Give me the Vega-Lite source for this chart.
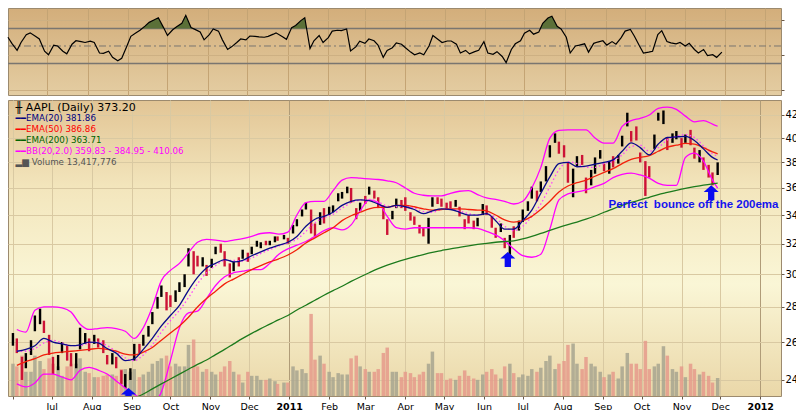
{
"$schema": "https://vega.github.io/schema/vega-lite/v6.json",
"padding": {"left": 5, "top": 7, "right": 0, "bottom": 0},
"background": "white",
"spacing": 3,
"config": {"font": "DejaVu Sans", "axis": {"domain": false, "labelFont": "DejaVu Sans", "labelColor": "#000", "tickColor": "#6a5a4a"}},
"datasets": {
"px": [
{"d":"2010-06-01","h":265,"l":258,"u":1,"v":24,"r":60},
{"d":"2010-06-04","h":262,"l":254,"u":0,"v":22,"r":53},
{"d":"2010-06-08","h":252,"l":240,"u":0,"v":30,"r":45},
{"d":"2010-06-11","h":254,"l":246,"u":1,"v":18,"r":54},
{"d":"2010-06-15","h":261,"l":253,"u":1,"v":18,"r":63},
{"d":"2010-06-18","h":275,"l":266,"u":1,"v":30,"r":65},
{"d":"2010-06-22","h":279,"l":270,"u":1,"v":26,"r":61},
{"d":"2010-06-25","h":272,"l":265,"u":0,"v":20,"r":58},
{"d":"2010-06-29","h":264,"l":253,"u":0,"v":28,"r":44},
{"d":"2010-07-02","h":252,"l":243,"u":0,"v":24,"r":40},
{"d":"2010-07-06","h":253,"l":245,"u":1,"v":22,"r":51},
{"d":"2010-07-09","h":260,"l":254,"u":1,"v":15,"r":50},
{"d":"2010-07-13","h":258,"l":250,"u":0,"v":22,"r":44},
{"d":"2010-07-16","h":254,"l":247,"u":0,"v":24,"r":41},
{"d":"2010-07-20","h":254,"l":246,"u":1,"v":24,"r":52},
{"d":"2010-07-23","h":268,"l":256,"u":1,"v":28,"r":56},
{"d":"2010-07-27","h":265,"l":259,"u":1,"v":18,"r":55},
{"d":"2010-07-30","h":262,"l":255,"u":0,"v":17,"r":54},
{"d":"2010-08-03","h":264,"l":259,"u":1,"v":14,"r":55.5},
{"d":"2010-08-06","h":262,"l":257,"u":0,"v":14,"r":54},
{"d":"2010-08-10","h":261,"l":254,"u":0,"v":15,"r":42},
{"d":"2010-08-13","h":253,"l":248,"u":0,"v":16,"r":41.5},
{"d":"2010-08-17","h":254,"l":248,"u":1,"v":16,"r":44},
{"d":"2010-08-20","h":252,"l":246,"u":0,"v":15,"r":37},
{"d":"2010-08-24","h":245,"l":238,"u":0,"v":20,"r":33},
{"d":"2010-08-27","h":243,"l":236,"u":1,"v":20,"r":36},
{"d":"2010-08-31","h":246,"l":240,"u":1,"v":18,"r":50},
{"d":"2010-09-03","h":259,"l":250,"u":1,"v":20,"r":61},
{"d":"2010-09-07","h":259,"l":254,"u":0,"v":14,"r":65},
{"d":"2010-09-10","h":264,"l":258,"u":1,"v":16,"r":68},
{"d":"2010-09-14","h":269,"l":263,"u":1,"v":18,"r":73},
{"d":"2010-09-17","h":277,"l":270,"u":1,"v":24,"r":77},
{"d":"2010-09-21","h":286,"l":279,"u":1,"v":26,"r":80},
{"d":"2010-09-24","h":293,"l":286,"u":1,"v":28,"r":82.3},
{"d":"2010-09-28","h":289,"l":278,"u":0,"v":30,"r":71},
{"d":"2010-10-01","h":287,"l":280,"u":0,"v":22,"r":62},
{"d":"2010-10-05","h":290,"l":283,"u":1,"v":24,"r":68.5},
{"d":"2010-10-08","h":295,"l":289,"u":1,"v":22,"r":72},
{"d":"2010-10-12","h":300,"l":292,"u":1,"v":22,"r":76},
{"d":"2010-10-15","h":317,"l":305,"u":1,"v":38,"r":85},
{"d":"2010-10-19","h":315,"l":300,"u":0,"v":42,"r":71},
{"d":"2010-10-22","h":312,"l":305,"u":0,"v":22,"r":69},
{"d":"2010-10-26","h":311,"l":305,"u":1,"v":18,"r":66},
{"d":"2010-10-29","h":306,"l":299,"u":0,"v":20,"r":57},
{"d":"2010-11-02","h":310,"l":304,"u":1,"v":18,"r":63},
{"d":"2010-11-05","h":318,"l":313,"u":1,"v":16,"r":69.5},
{"d":"2010-11-09","h":320,"l":314,"u":0,"v":18,"r":67},
{"d":"2010-11-12","h":315,"l":305,"u":0,"v":22,"r":57},
{"d":"2010-11-16","h":307,"l":298,"u":0,"v":26,"r":46},
{"d":"2010-11-19","h":308,"l":302,"u":1,"v":18,"r":49},
{"d":"2010-11-23","h":311,"l":305,"u":0,"v":16,"r":54},
{"d":"2010-11-26","h":316,"l":310,"u":1,"v":10,"r":58},
{"d":"2010-11-30","h":314,"l":308,"u":0,"v":18,"r":57},
{"d":"2010-12-03","h":318,"l":313,"u":1,"v":15,"r":61.4},
{"d":"2010-12-07","h":322,"l":318,"u":1,"v":15,"r":61},
{"d":"2010-12-10","h":321,"l":317,"u":1,"v":12,"r":60.5},
{"d":"2010-12-14","h":322,"l":319,"u":0,"v":12,"r":60},
{"d":"2010-12-17","h":322,"l":319,"u":1,"v":13,"r":61},
{"d":"2010-12-21","h":325,"l":321,"u":1,"v":11,"r":63.5},
{"d":"2010-12-23","h":325,"l":322,"u":0,"v":9,"r":65},
{"d":"2010-12-28","h":326,"l":323,"u":1,"v":10,"r":60.5},
{"d":"2010-12-31","h":324,"l":320,"u":0,"v":10,"r":57.6},
{"d":"2011-01-04","h":333,"l":327,"u":1,"v":22,"r":71},
{"d":"2011-01-07","h":337,"l":332,"u":1,"v":19,"r":73.5},
{"d":"2011-01-11","h":344,"l":339,"u":1,"v":20,"r":79},
{"d":"2011-01-14","h":349,"l":344,"u":1,"v":17,"r":82.3},
{"d":"2011-01-18","h":344,"l":327,"u":0,"v":61,"r":47},
{"d":"2011-01-21","h":334,"l":325,"u":0,"v":27,"r":56},
{"d":"2011-01-25","h":342,"l":333,"u":1,"v":30,"r":62},
{"d":"2011-01-28","h":345,"l":334,"u":0,"v":24,"r":54},
{"d":"2011-02-01","h":346,"l":340,"u":1,"v":18,"r":59.5},
{"d":"2011-02-04","h":347,"l":342,"u":1,"v":14,"r":67},
{"d":"2011-02-08","h":356,"l":350,"u":1,"v":17,"r":68},
{"d":"2011-02-11","h":357,"l":352,"u":1,"v":16,"r":67.5},
{"d":"2011-02-15","h":361,"l":356,"u":1,"v":16,"r":69.5},
{"d":"2011-02-18","h":360,"l":349,"u":0,"v":28,"r":44.3},
{"d":"2011-02-22","h":345,"l":337,"u":0,"v":30,"r":49},
{"d":"2011-02-25","h":349,"l":343,"u":1,"v":22,"r":55.5},
{"d":"2011-03-01","h":354,"l":348,"u":0,"v":20,"r":53},
{"d":"2011-03-04","h":361,"l":355,"u":1,"v":18,"r":58},
{"d":"2011-03-08","h":358,"l":352,"u":0,"v":18,"r":56},
{"d":"2011-03-11","h":353,"l":345,"u":0,"v":20,"r":51},
{"d":"2011-03-15","h":347,"l":337,"u":0,"v":32,"r":37},
{"d":"2011-03-18","h":337,"l":326,"u":0,"v":36,"r":45},
{"d":"2011-03-22","h":343,"l":337,"u":1,"v":18,"r":48},
{"d":"2011-03-25","h":352,"l":345,"u":1,"v":18,"r":53.5},
{"d":"2011-03-29","h":351,"l":345,"u":0,"v":14,"r":52},
{"d":"2011-04-01","h":353,"l":343,"u":0,"v":18,"r":48},
{"d":"2011-04-05","h":342,"l":336,"u":0,"v":17,"r":43},
{"d":"2011-04-08","h":339,"l":333,"u":0,"v":14,"r":40},
{"d":"2011-04-12","h":333,"l":327,"u":0,"v":16,"r":42},
{"d":"2011-04-15","h":331,"l":325,"u":0,"v":18,"r":40},
{"d":"2011-04-19","h":338,"l":320,"u":1,"v":24,"r":50},
{"d":"2011-04-22","h":353,"l":346,"u":1,"v":33,"r":62},
{"d":"2011-04-26","h":353,"l":348,"u":0,"v":17,"r":57.5},
{"d":"2011-04-29","h":352,"l":346,"u":0,"v":17,"r":54},
{"d":"2011-05-03","h":349,"l":344,"u":0,"v":12,"r":55.7},
{"d":"2011-05-06","h":350,"l":345,"u":0,"v":13,"r":55.7},
{"d":"2011-05-10","h":351,"l":346,"u":1,"v":12,"r":52},
{"d":"2011-05-13","h":346,"l":339,"u":0,"v":15,"r":42},
{"d":"2011-05-17","h":337,"l":330,"u":0,"v":19,"r":45},
{"d":"2011-05-20","h":340,"l":334,"u":0,"v":15,"r":41},
{"d":"2011-05-24","h":336,"l":330,"u":0,"v":13,"r":43.5},
{"d":"2011-05-27","h":338,"l":332,"u":1,"v":12,"r":45},
{"d":"2011-05-31","h":348,"l":340,"u":1,"v":16,"r":55},
{"d":"2011-06-03","h":347,"l":340,"u":0,"v":18,"r":42},
{"d":"2011-06-07","h":339,"l":331,"u":0,"v":20,"r":40.5},
{"d":"2011-06-10","h":331,"l":324,"u":0,"v":16,"r":43.5},
{"d":"2011-06-14","h":334,"l":328,"u":1,"v":13,"r":38},
{"d":"2011-06-17","h":324,"l":317,"u":0,"v":22,"r":31},
{"d":"2011-06-21","h":326,"l":311,"u":1,"v":24,"r":46},
{"d":"2011-06-24","h":332,"l":324,"u":0,"v":17,"r":52.5},
{"d":"2011-06-28","h":336,"l":329,"u":1,"v":14,"r":56},
{"d":"2011-07-01","h":344,"l":335,"u":1,"v":16,"r":64.5},
{"d":"2011-07-05","h":350,"l":343,"u":1,"v":15,"r":68},
{"d":"2011-07-08","h":361,"l":352,"u":1,"v":20,"r":63.5},
{"d":"2011-07-12","h":358,"l":350,"u":0,"v":18,"r":66},
{"d":"2011-07-15","h":365,"l":357,"u":1,"v":21,"r":76},
{"d":"2011-07-19","h":377,"l":365,"u":1,"v":26,"r":82},
{"d":"2011-07-22","h":394,"l":384,"u":1,"v":30,"r":84},
{"d":"2011-07-26","h":404,"l":396,"u":1,"v":20,"r":72.5},
{"d":"2011-07-29","h":397,"l":387,"u":0,"v":24,"r":69.5},
{"d":"2011-08-02","h":394,"l":384,"u":0,"v":26,"r":60},
{"d":"2011-08-05","h":380,"l":364,"u":0,"v":38,"r":42},
{"d":"2011-08-09","h":375,"l":353,"u":1,"v":39,"r":50},
{"d":"2011-08-12","h":385,"l":377,"u":1,"v":24,"r":51},
{"d":"2011-08-16","h":386,"l":378,"u":0,"v":20,"r":52.5},
{"d":"2011-08-19","h":368,"l":356,"u":0,"v":29,"r":43},
{"d":"2011-08-23","h":374,"l":362,"u":1,"v":24,"r":53},
{"d":"2011-08-26","h":384,"l":371,"u":1,"v":22,"r":54.5},
{"d":"2011-08-30","h":390,"l":383,"u":1,"v":18,"r":56},
{"d":"2011-09-02","h":379,"l":373,"u":0,"v":14,"r":51},
{"d":"2011-09-06","h":381,"l":371,"u":1,"v":16,"r":55},
{"d":"2011-09-09","h":385,"l":376,"u":0,"v":18,"r":52},
{"d":"2011-09-13","h":386,"l":379,"u":1,"v":13,"r":59.5},
{"d":"2011-09-16","h":402,"l":393,"u":1,"v":22,"r":67},
{"d":"2011-09-20","h":422,"l":410,"u":1,"v":32,"r":69},
{"d":"2011-09-23","h":406,"l":397,"u":0,"v":24,"r":61.5},
{"d":"2011-09-27","h":410,"l":398,"u":0,"v":24,"r":50},
{"d":"2011-09-30","h":388,"l":380,"u":0,"v":20,"r":42},
{"d":"2011-10-04","h":381,"l":354,"u":0,"v":41,"r":43},
{"d":"2011-10-07","h":377,"l":368,"u":0,"v":20,"r":44},
{"d":"2011-10-11","h":403,"l":391,"u":1,"v":22,"r":63},
{"d":"2011-10-14","h":422,"l":415,"u":1,"v":24,"r":67.5},
{"d":"2011-10-18","h":424,"l":412,"u":1,"v":37,"r":55},
{"d":"2011-10-21","h":400,"l":390,"u":0,"v":30,"r":53.5},
{"d":"2011-10-25","h":404,"l":396,"u":1,"v":20,"r":52.5},
{"d":"2011-10-28","h":406,"l":399,"u":1,"v":18,"r":54},
{"d":"2011-11-01","h":400,"l":392,"u":0,"v":22,"r":50},
{"d":"2011-11-04","h":403,"l":396,"u":1,"v":14,"r":53},
{"d":"2011-11-08","h":407,"l":394,"u":0,"v":24,"r":46},
{"d":"2011-11-11","h":392,"l":383,"u":0,"v":20,"r":42},
{"d":"2011-11-15","h":390,"l":380,"u":1,"v":16,"r":46},
{"d":"2011-11-18","h":384,"l":374,"u":0,"v":18,"r":39},
{"d":"2011-11-22","h":378,"l":368,"u":0,"v":15,"r":40},
{"d":"2011-11-25","h":372,"l":362,"u":0,"v":10,"r":37},
{"d":"2011-11-29","h":380,"l":370,"u":1,"v":13.4,"r":43}
],
"ind": [
{"d":"2010-06-04","e20":255,"e50":247.5,"bu":267,"bl":238,"bm":255},
{"d":"2010-06-11","e20":256,"e50":249.5,"bu":265.5,"bl":236.5,"bm":255},
{"d":"2010-06-18","e20":258,"e50":251,"bu":278,"bl":238.5,"bm":256.5},
{"d":"2010-06-25","e20":262,"e50":253,"bu":280,"bl":243,"bm":259.5},
{"d":"2010-07-02","e20":260,"e50":254,"bu":280,"bl":243,"bm":261},
{"d":"2010-07-09","e20":259,"e50":254.5,"bu":279.5,"bl":241.5,"bm":259.5},
{"d":"2010-07-16","e20":258,"e50":255,"bu":277,"bl":240,"bm":258},
{"d":"2010-07-23","e20":258.5,"e50":255.5,"bu":270,"bl":245,"bm":258},
{"d":"2010-07-30","e20":260,"e50":256,"bu":267,"bl":246.5,"bm":259.5},
{"d":"2010-08-06","e20":259.5,"e50":256.5,"bu":267.5,"bl":245,"bm":260},
{"d":"2010-08-13","e20":256.5,"e50":256,"e200":224,"bu":268,"bl":243,"bm":258},
{"d":"2010-08-20","e20":254,"e50":255,"e200":226.5,"bu":267.5,"bl":239.5,"bm":255},
{"d":"2010-08-27","e20":250,"e50":253.5,"e200":229,"bu":266,"bl":236,"bm":251.5},
{"d":"2010-09-03","e20":251,"e50":253,"e200":231,"bu":262,"bl":233,"bm":250},
{"d":"2010-09-10","e20":256,"e50":254.5,"e200":233,"bu":268,"bl":230,"bm":253},
{"d":"2010-09-17","e20":262,"e50":257,"e200":235.5,"bu":280,"bl":229,"bm":258.5},
{"d":"2010-09-24","e20":269,"e50":261,"e200":238,"bu":296,"bl":234,"bm":265.5},
{"d":"2010-10-01","e20":275,"e50":265,"e200":240.5,"bu":302.5,"bl":250,"bm":272},
{"d":"2010-10-08","e20":281,"e50":269,"e200":243,"bu":307,"bl":268,"bm":278},
{"d":"2010-10-15","e20":290,"e50":274,"e200":245.5,"bu":314,"bl":276.5,"bm":285.5},
{"d":"2010-10-22","e20":298,"e50":280,"e200":248,"bu":321,"bl":277.5,"bm":294},
{"d":"2010-10-29","e20":304,"e50":285,"e200":250.3,"bu":323,"bl":285,"bm":301},
{"d":"2010-11-05","e20":307,"e50":289.5,"e200":253.2,"bu":322.5,"bl":293,"bm":305.5},
{"d":"2010-11-12","e20":309.5,"e50":294,"e200":256,"bu":321.5,"bl":298.5,"bm":309},
{"d":"2010-11-19","e20":308,"e50":297,"e200":259,"bu":322.5,"bl":301,"bm":309},
{"d":"2010-11-26","e20":309,"e50":300,"e200":262,"bu":323.5,"bl":302,"bm":308.5},
{"d":"2010-12-03","e20":312,"e50":303,"e200":264.8,"bu":325,"bl":303,"bm":310.5},
{"d":"2010-12-10","e20":314.5,"e50":305.5,"e200":267.5,"bu":327,"bl":303,"bm":313.5},
{"d":"2010-12-17","e20":317,"e50":308,"e200":270,"bu":327.5,"bl":307,"bm":316},
{"d":"2010-12-24","e20":319,"e50":310,"e200":272.6,"bu":326.5,"bl":313,"bm":318.5},
{"d":"2010-12-31","e20":321,"e50":312.5,"e200":275,"bu":328,"bl":316.5,"bm":320.5},
{"d":"2011-01-07","e20":325,"e50":316,"e200":278.2,"bu":340,"bl":319,"bm":323},
{"d":"2011-01-14","e20":332,"e50":320.5,"e200":281,"bu":349,"bl":321.5,"bm":328.5},
{"d":"2011-01-21","e20":337,"e50":324,"e200":284,"bu":350,"bl":325,"bm":334.5},
{"d":"2011-01-28","e20":339,"e50":327.5,"e200":287,"bu":350,"bl":329,"bm":338},
{"d":"2011-02-04","e20":342,"e50":331,"e200":289.8,"bu":358,"bl":331,"bm":340.5},
{"d":"2011-02-11","e20":347,"e50":336,"e200":292.5,"bu":366,"bl":329.5,"bm":345},
{"d":"2011-02-18","e20":350,"e50":339.5,"e200":295.5,"bu":368,"bl":333,"bm":349},
{"d":"2011-02-25","e20":351,"e50":342,"e200":298.3,"bu":367.5,"bl":343,"bm":351},
{"d":"2011-03-04","e20":350.5,"e50":344.5,"e200":301,"bu":367,"bl":351,"bm":351.5},
{"d":"2011-03-11","e20":348,"e50":345.5,"e200":303.6,"bu":366.5,"bl":349,"bm":349.5},
{"d":"2011-03-18","e20":345.5,"e50":345.5,"e200":305.8,"bu":365.5,"bl":339,"bm":346.5},
{"d":"2011-03-25","e20":347,"e50":347,"e200":307.8,"bu":364,"bl":331,"bm":346},
{"d":"2011-04-01","e20":346,"e50":347,"e200":309.6,"bu":360,"bl":330,"bm":346.5},
{"d":"2011-04-08","e20":344,"e50":346,"e200":311.3,"bu":356,"bl":331,"bm":345},
{"d":"2011-04-15","e20":341,"e50":344.5,"e200":312.8,"bu":354.5,"bl":331,"bm":342.5},
{"d":"2011-04-22","e20":343,"e50":343.5,"e200":314.2,"bu":354,"bl":331,"bm":342},
{"d":"2011-04-29","e20":344.5,"e50":344,"e200":315.4,"bu":354,"bl":331,"bm":344},
{"d":"2011-05-06","e20":344,"e50":344.5,"e200":316.6,"bu":356,"bl":331,"bm":344.5},
{"d":"2011-05-13","e20":342,"e50":344.5,"e200":317.6,"bu":357.5,"bl":331,"bm":343},
{"d":"2011-05-20","e20":340,"e50":344,"e200":318.6,"bu":358,"bl":331,"bm":341},
{"d":"2011-05-27","e20":340,"e50":343.6,"e200":319.5,"bu":355,"bl":330.5,"bm":340},
{"d":"2011-06-03","e20":341,"e50":343,"e200":320.3,"bu":352.5,"bl":328.5,"bm":341},
{"d":"2011-06-10","e20":336,"e50":340,"e200":321,"bu":351.5,"bl":326,"bm":338},
{"d":"2011-06-17","e20":330,"e50":336.5,"e200":321.5,"bu":350,"bl":322,"bm":332},
{"d":"2011-06-24","e20":330,"e50":335,"e200":322,"bu":348,"bl":316.5,"bm":329},
{"d":"2011-07-01","e20":336,"e50":336,"e200":323.3,"bu":350,"bl":312,"bm":332},
{"d":"2011-07-08","e20":343.6,"e50":339,"e200":325,"bu":360,"bl":311,"bm":339},
{"d":"2011-07-15","e20":356,"e50":344,"e200":327,"bu":376,"bl":313,"bm":348},
{"d":"2011-07-22","e20":368.5,"e50":350,"e200":329.2,"bu":400,"bl":330,"bm":361},
{"d":"2011-07-29","e20":379,"e50":357,"e200":331.3,"bu":406.5,"bl":351,"bm":374},
{"d":"2011-08-05","e20":380,"e50":361.5,"e200":333.2,"bu":407,"bl":355.5,"bm":380.5},
{"d":"2011-08-12","e20":376.5,"e50":364,"e200":335,"bu":407,"bl":357,"bm":379},
{"d":"2011-08-19","e20":377,"e50":366,"e200":337,"bu":407,"bl":358.5,"bm":376},
{"d":"2011-08-26","e20":378.5,"e50":369,"e200":339.3,"bu":400,"bl":361,"bm":376},
{"d":"2011-09-02","e20":380,"e50":372,"e200":342,"bu":395.8,"bl":363.5,"bm":379},
{"d":"2011-09-09","e20":382,"e50":375,"e200":344.5,"bu":395.8,"bl":368,"bm":381},
{"d":"2011-09-16","e20":389,"e50":379,"e200":347,"bu":410,"bl":370.5,"bm":386},
{"d":"2011-09-23","e20":396,"e50":382.5,"e200":349.2,"bu":415,"bl":371.5,"bm":393},
{"d":"2011-09-30","e20":392,"e50":384,"e200":351,"bu":417,"bl":370,"bm":394},
{"d":"2011-10-07","e20":386,"e50":385.5,"e200":353,"bu":420,"bl":367.5,"bm":389},
{"d":"2011-10-14","e20":395,"e50":389,"e200":355,"bu":426,"bl":363.5,"bm":392},
{"d":"2011-10-21","e20":400.5,"e50":392.5,"e200":356.6,"bu":427,"bl":362,"bm":398.5},
{"d":"2011-10-28","e20":401,"e50":394,"e200":358.2,"bu":425,"bl":362,"bm":401.5},
{"d":"2011-11-04","e20":401.4,"e50":395.5,"e200":359.7,"bu":419,"bl":384,"bm":403},
{"d":"2011-11-11","e20":398,"e50":395,"e200":361,"bu":414,"bl":387.5,"bm":400.5},
{"d":"2011-11-18","e20":391,"e50":392,"e200":362.2,"bu":415,"bl":381,"bm":393.5},
{"d":"2011-11-25","e20":384,"e50":388.5,"e200":363.2,"bu":412,"bl":366,"bm":387},
{"d":"2011-11-29","e20":381.9,"e50":386.9,"e200":363.7,"bu":410.1,"bl":359.8,"bm":385}
],
"ob": [
{"d":"2010-09-11T14:00:00Z","r":70,"s":1},{"d":"2010-09-14","r":73,"s":1},{"d":"2010-09-17","r":77,"s":1},{"d":"2010-09-21","r":80,"s":1},{"d":"2010-09-24","r":82.3,"s":1},{"d":"2010-09-28","r":71,"s":1},{"d":"2010-09-28T08:00:00Z","r":70,"s":1},
{"d":"2010-10-06T07:00:00Z","r":70,"s":2},{"d":"2010-10-08","r":72,"s":2},{"d":"2010-10-12","r":76,"s":2},{"d":"2010-10-15","r":85,"s":2},{"d":"2010-10-19","r":71,"s":2},{"d":"2010-10-20T12:00:00Z","r":70,"s":2},
{"d":"2011-01-03T17:00:00Z","r":70,"s":3},{"d":"2011-01-04","r":71,"s":3},{"d":"2011-01-07","r":73.5,"s":3},{"d":"2011-01-11","r":79,"s":3},{"d":"2011-01-14","r":82.3,"s":3},{"d":"2011-01-15T09:00:00Z","r":70,"s":3},
{"d":"2011-07-13T05:00:00Z","r":70,"s":4},{"d":"2011-07-15","r":76,"s":4},{"d":"2011-07-19","r":82,"s":4},{"d":"2011-07-22","r":84,"s":4},{"d":"2011-07-26","r":72.5,"s":4},{"d":"2011-07-28T12:00:00Z","r":70,"s":4}
],
"lg": [
{"d":"2010-06-03","p":426.6,"k":"px","t":"╫ AAPL (Daily) 373.20"},
{"d":"2010-06-03","p":417.2,"k":"e20","t":"━━EMA(20) 381.86"},
{"d":"2010-06-03","p":407.9,"k":"e50","t":"━━EMA(50) 386.86"},
{"d":"2010-06-03","p":398.5,"k":"e200","t":"━━EMA(200) 363.71"},
{"d":"2010-06-03","p":389.4,"k":"bb","t":"━━BB(20,2.0) 359.83 - 384.95 - 410.06"},
{"d":"2010-06-03","p":380.4,"k":"vol","t":"▂▆ Volume 13,417,776"}
],
"ar": [
{"d":"2010-08-29T12:00:00Z","p":232.3},
{"d":"2011-06-19T10:00:00Z","p":309.6},
{"d":"2011-11-24T00:00:00Z","p":356.3}
],
"note": [
{"d":"2011-09-05T10:00:00Z","p":347.2,"t":"Perfect\u00a0 bounce off the 200ema"}
]
},
"vconcat": [
{
"width": 773, "height": 87,
"view": {"fill": {"gradient": "linear", "x1": 0, "y1": 0, "x2": 0, "y2": 1, "stops": [{"offset": 0, "color": "#d3ae7b"}, {"offset": 1, "color": "#e4cda2"}]}, "stroke": "#9c8a6e"},
"layer": [
{"data": {"name": "px"}, "mark": {"type": "line", "strokeWidth": 1.2, "color": "#000000", "opacity": 0},
 "encoding": {
  "x": {"field": "d", "type": "temporal", "scale": {"domain": [{"year": 2010, "month": "Jun", "date": 1, "hours": 1, "utc": true}, {"year": 2012, "month": "Jan", "date": 13, "hours": 5, "utc": true}]}, "axis": {"title": null, "labels": false, "ticks": false, "grid": true, "gridColor": "#c4a474", "tickCount": {"interval": "month", "step": 1}}},
  "y": {"field": "r", "type": "quantitative", "scale": {"domain": [-6, 93.4], "nice": false, "zero": false}, "axis": {"title": null, "orient": "right", "values": [0, 10, 20, 30, 40, 50, 60, 70, 80, 90], "labelExpr": "datum.value % 20 == 10 ? datum.label : ''", "grid": true, "gridColor": "#cdb083", "tickSize": 3, "labelFontSize": 10, "labelPadding": 1}}
 }},
{"data": {"values": [{}]}, "mark": {"type": "rule", "color": "#7a7670", "strokeWidth": 1.3}, "encoding": {"y": {"datum": 70}}},
{"data": {"values": [{}]}, "mark": {"type": "rule", "color": "#7a7670", "strokeWidth": 1.3}, "encoding": {"y": {"datum": 30}}},
{"data": {"values": [{}]}, "mark": {"type": "rule", "color": "#7a7670", "strokeWidth": 1, "strokeDash": [7, 3, 2, 3]}, "encoding": {"y": {"datum": 50}}},
{"data": {"name": "ob"}, "mark": {"type": "area", "color": "#5b7038", "opacity": 1},
 "encoding": {"x": {"field": "d", "type": "temporal"}, "y": {"field": "r", "type": "quantitative"}, "y2": {"datum": 70}, "detail": {"field": "s", "type": "nominal"}}},
{"data": {"name": "px"}, "mark": {"type": "line", "strokeWidth": 1.2, "color": "#000000"},
 "encoding": {"x": {"field": "d", "type": "temporal"}, "y": {"field": "r", "type": "quantitative"}}}
]
},
{
"width": 773, "height": 296,
"view": {"fill": {"gradient": "linear", "x1": 0, "y1": 0, "x2": 0, "y2": 1, "stops": [{"offset": 0, "color": "#e2c595"}, {"offset": 0.3, "color": "#f3e6bd"}, {"offset": 0.62, "color": "#faf6d6"}, {"offset": 1, "color": "#ead7a8"}]}, "stroke": "#9c8a6e"},
"resolve": {"scale": {"y": "independent"}},
"encoding": {
 "x": {"field": "d", "type": "temporal", "scale": {"domain": [{"year": 2010, "month": "Jun", "date": 1, "hours": 1, "utc": true}, {"year": 2012, "month": "Jan", "date": 13, "hours": 5, "utc": true}]},
  "axis": {"title": null, "tickCount": {"interval": "month", "step": 1}, "labelExpr": "datum.value < datetime(2010, 5, 20) ? '' : (month(datum.value) == 0 ? timeFormat(datum.value, '%Y') : timeFormat(datum.value, '%b'))", "labelFontWeight": {"condition": {"test": "month(datum.value) == 0", "value": "bold"}, "value": "normal"}, "labelFontSize": 9.5, "grid": true, "gridColor": {"condition": {"test": "month(datum.value) == 0", "value": "#b09c78"}, "value": "#d9c9a2"}, "tickSize": 3, "labelPadding": 2, "labelOverlap": false, "labelFlush": false}}
},
"layer": [
{"data": {"name": "px"}, "mark": {"type": "bar", "size": 3.5, "opacity": 0.85, "clip": true},
 "encoding": {
  "y": {"field": "v", "type": "quantitative", "scale": {"domain": [0, 220], "nice": false}, "axis": null},
  "color": {"condition": {"test": "datum.u == 1", "value": "#a7a58f"}, "value": "#e59a8b"}
 }},
{"layer": [
 {"data": {"name": "px"}, "mark": {"type": "rule", "strokeWidth": 2.4, "clip": true},
  "encoding": {
   "y": {"field": "l", "type": "quantitative", "scale": {"type": "log", "domain": [232, 433.5], "nice": false, "zero": false}, "axis": {"title": null, "orient": "right", "values": [240, 260, 280, 300, 320, 340, 360, 380, 400, 420], "grid": true, "gridColor": "#d9c9a2", "tickSize": 3, "labelFontSize": 10, "labelPadding": 1}},
   "y2": {"field": "h"},
   "color": {"condition": {"test": "datum.u == 1", "value": "#000000"}, "value": "#cc1236"}
  }},
 {"data": {"name": "ind"}, "mark": {"type": "line", "strokeWidth": 1.3, "color": "#ff00ff", "clip": true, "interpolate": "monotone"}, "encoding": {"y": {"field": "bu", "type": "quantitative"}}},
 {"data": {"name": "ind"}, "mark": {"type": "line", "strokeWidth": 1.3, "color": "#ff00ff", "clip": true, "interpolate": "monotone"}, "encoding": {"y": {"field": "bl", "type": "quantitative"}}},
 {"data": {"name": "ind"}, "mark": {"type": "line", "strokeWidth": 1.3, "color": "#ff44ff", "strokeDash": [1.5, 2.5], "clip": true, "interpolate": "monotone"}, "encoding": {"y": {"field": "bm", "type": "quantitative"}}},
 {"data": {"name": "ind"}, "mark": {"type": "line", "strokeWidth": 1.3, "color": "#1c7a1c", "clip": true, "interpolate": "monotone"}, "encoding": {"y": {"field": "e200", "type": "quantitative"}}},
 {"data": {"name": "ind"}, "mark": {"type": "line", "strokeWidth": 1.3, "color": "#f2200c", "clip": true, "interpolate": "monotone"}, "encoding": {"y": {"field": "e50", "type": "quantitative"}}},
 {"data": {"name": "ind"}, "mark": {"type": "line", "strokeWidth": 1.3, "color": "#0a0a8a", "clip": true, "interpolate": "monotone"}, "encoding": {"y": {"field": "e20", "type": "quantitative"}}},
 {"data": {"name": "ar"}, "mark": {"type": "point", "shape": "M0,-1L1,-0.12L0.42,-0.12L0.42,1L-0.42,1L-0.42,-0.12L-1,-0.12Z", "filled": true, "color": "#0b0bf0", "size": 225, "opacity": 1, "clip": true}, "encoding": {"y": {"field": "p", "type": "quantitative"}}},
 {"data": {"name": "lg"}, "transform": [{"filter": "datum.k == 'px'"}], "mark": {"type": "text", "align": "left", "baseline": "middle", "fontSize": 11, "font": "DejaVu Sans", "color": "#000000"}, "encoding": {"y": {"field": "p", "type": "quantitative"}, "text": {"field": "t"}}},
 {"data": {"name": "lg"}, "transform": [{"filter": "datum.k != 'px'"}], "mark": {"type": "text", "align": "left", "baseline": "middle", "fontSize": 8.7, "font": "DejaVu Sans"},
  "encoding": {"y": {"field": "p", "type": "quantitative"}, "text": {"field": "t"},
   "color": {"condition": [{"test": "datum.k == 'e20'", "value": "#000080"}, {"test": "datum.k == 'e50'", "value": "#ff0000"}, {"test": "datum.k == 'e200'", "value": "#006400"}, {"test": "datum.k == 'bb'", "value": "#ff00ff"}], "value": "#555555"}}},
 {"data": {"name": "note"}, "mark": {"type": "text", "align": "left", "baseline": "middle", "fontSize": 11.5, "font": "Liberation Sans", "fontWeight": "bold", "color": "#1414ee"}, "encoding": {"y": {"field": "p", "type": "quantitative"}, "text": {"field": "t"}}}
]}
]
}
]
}
